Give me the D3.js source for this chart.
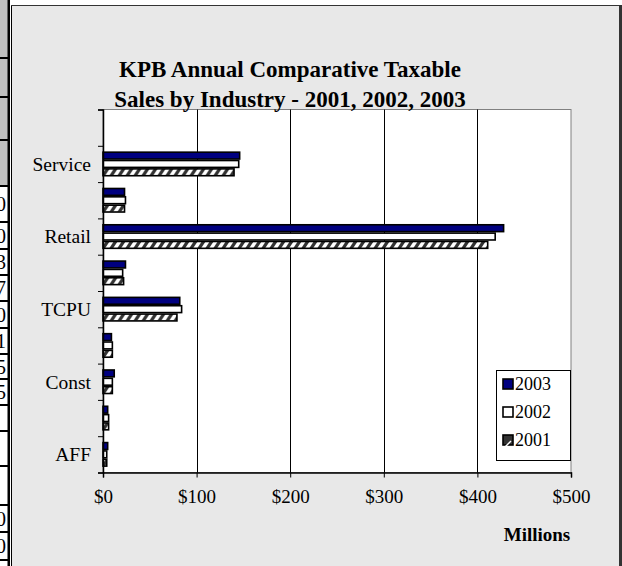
<!DOCTYPE html>
<html>
<head>
<meta charset="utf-8">
<script src="https://cdn.jsdelivr.net/npm/d3@7/dist/d3.min.js"></script>
<style>
  html, body { margin: 0; padding: 0; background: #ffffff; }
  svg { display: block; }
  text { font-family: "Liberation Serif", "Times New Roman", serif; fill: #000; }
</style>
</head>
<body>
<svg id="chart" width="622" height="566"></svg>
<script>
// ---- data (millions of dollars) ----
const categories = ["AFF", "Mining", "Const", "Manuf", "TCPU", "Wholesale", "Retail", "FIRE", "Service", "Other"];
const years = ["2003", "2002", "2001"];
const values2003 = [5, 5, 12, 9, 82, 24, 428, 23, 146, 0];
const values2002 = [4, 6, 10, 10, 84, 21, 419, 24, 145, 0];
const values2001 = [4, 6, 10, 10, 79, 22, 411, 23, 140, 0];
const xTickValues = [0, 100, 200, 300, 400, 500];
const titleLines = ["KPB Annual Comparative Taxable", "Sales by Industry - 2001, 2002, 2003"];
const axisTitle = "Millions";
// fragment of the neighbouring table at the left edge
const sideDigits = ["0", "0", "3", "7", "0", "1", "5", "5", "", "", "", "0", "0"];

const seriesByYear = { "2003": values2003, "2002": values2002, "2001": values2001 };
const rows = categories.map((c, i) => ({ cat: c, i, vals: years.map(y => ({ year: y, v: seriesByYear[y][i] })) }));

const svg = d3.select("#chart");

// ---- pattern for 2001 ----
const defs = svg.append("defs");
const pat = defs.append("pattern").attr("id", "hatch").attr("patternUnits", "userSpaceOnUse")
  .attr("width", 8).attr("height", 8);
pat.append("rect").attr("width", 8).attr("height", 8).attr("fill", "#ffffff");
pat.append("path").attr("d", "M-2,10 L6,-2 M6,10 L14,-2").attr("stroke", "#333333").attr("stroke-width", 3.2);

// ---- left table fragment ----
svg.append("rect").attr("x", 0).attr("y", 0).attr("width", 8).attr("height", 186).attr("fill", "#c0c0c0");
[58, 97, 140, 186].forEach(yy => svg.append("rect").attr("x", 0).attr("y", yy - 1).attr("width", 8).attr("height", 2).attr("fill", "#000"));
const sideLines = [186, 222, 249, 275, 301, 328, 354, 379, 405, 431, 466, 505, 532, 560];
sideDigits.forEach((d, k) => {
  const yTop = sideLines[k], yBot = sideLines[k + 1];
  svg.append("rect").attr("x", 0).attr("y", yBot - 1).attr("width", 8).attr("height", 2).attr("fill", "#000");
  if (d) svg.append("text").attr("x", 6).attr("y", (yTop + yBot) / 2).attr("dy", "0.35em").attr("text-anchor", "end")
    .style("font-size", "20px").text(d);
});
svg.append("rect").attr("x", 8).attr("y", 0).attr("width", 3).attr("height", 566).attr("fill", "#ffffff");

// ---- chart area ----
svg.append("rect").attr("x", 12).attr("y", 6).attr("width", 607).attr("height", 560).attr("fill", "#e8e8e8");
svg.append("rect").attr("x", 7.5).attr("y", 0).attr("width", 2.5).attr("height", 566).attr("fill", "#000");
svg.append("rect").attr("x", 11).attr("y", 5).attr("width", 1).attr("height", 561).attr("fill", "#000");
svg.append("rect").attr("x", 11).attr("y", 5).attr("width", 611).attr("height", 1).attr("fill", "#333");
svg.append("rect").attr("x", 619).attr("y", 5).attr("width", 3).attr("height", 561).attr("fill", "#333");

// ---- scales ----
const plot = { left: 103, right: 571, top: 109.5, bottom: 472.5 };
const x = d3.scaleLinear().domain([0, 500]).range([plot.left, plot.right]);
const yIdx = d3.scaleLinear().domain([0, categories.length]).range([plot.bottom, plot.top]);
const y = d3.scaleBand().domain(categories).range([plot.bottom, plot.top]).paddingInner(0.31).paddingOuter(0.155);
const ySub = d3.scaleBand().domain(years).range([0, y.bandwidth()]);

// plot background
svg.append("rect").attr("x", plot.left).attr("y", plot.top)
  .attr("width", plot.right - plot.left).attr("height", plot.bottom - plot.top)
  .attr("fill", "#ffffff").attr("stroke", "#808080").attr("stroke-width", 1);

// gridlines
svg.append("g").selectAll("line").data(xTickValues.slice(1, -1)).join("line")
  .attr("x1", d => Math.round(x(d)) + 0.5).attr("x2", d => Math.round(x(d)) + 0.5)
  .attr("y1", plot.top).attr("y2", plot.bottom).attr("stroke", "#000").attr("stroke-width", 1);

// bars
const fills = { "2003": "#000080", "2002": "#ffffff", "2001": "url(#hatch)" };
const g = svg.append("g").selectAll("g").data(rows).join("g")
  .attr("transform", d => `translate(0,${y(d.cat)})`);
g.selectAll("rect").data(d => d.vals.filter(v => v.v > 0)).join("rect")
  .attr("x", x(0)).attr("y", d => ySub(d.year) + 0.75)
  .attr("width", d => x(d.v) - x(0)).attr("height", ySub.bandwidth() - 1.5)
  .attr("fill", d => fills[d.year]).attr("stroke", "#000").attr("stroke-width", 1.6);

// x axis
const xAxis = svg.append("g").attr("transform", `translate(0,${plot.bottom})`)
  .call(d3.axisBottom(x).tickValues(xTickValues).tickSize(5).tickPadding(12).tickFormat(d => "$" + d));
xAxis.select(".domain").attr("stroke", "#000").attr("stroke-width", 1.5);
xAxis.selectAll(".tick line").attr("stroke", "#000");
xAxis.selectAll("text").style("font-size", "19px").style("font-family", "Liberation Serif").attr("fill", "#000");

// y axis (ticks on category boundaries)
const yAxis = svg.append("g").attr("transform", `translate(${plot.left},0)`)
  .call(d3.axisLeft(yIdx).tickValues(d3.range(categories.length + 1)).tickSize(5).tickFormat(""));
yAxis.select(".domain").attr("stroke", "#000").attr("stroke-width", 1.5);
yAxis.selectAll(".tick line").attr("stroke", "#000");

// category labels (every other one shown)
svg.append("g").selectAll("text").data(rows.filter(d => d.i % 2 === 0)).join("text")
  .attr("x", 91).attr("y", d => y(d.cat) + y.bandwidth() / 2).attr("dy", "0.35em")
  .attr("text-anchor", "end").style("font-size", "19.5px").text(d => d.cat);

// title
svg.append("g").selectAll("text").data(titleLines).join("text")
  .attr("x", 290).attr("y", (d, i) => 77 + i * 30).attr("text-anchor", "middle")
  .style("font-size", "23px").style("font-weight", "bold").text(d => d);

// axis title
svg.append("text").attr("x", 537).attr("y", 541).attr("text-anchor", "middle")
  .style("font-size", "19px").style("font-weight", "bold").text(axisTitle);

// legend
const leg = svg.append("g");
leg.append("rect").attr("x", 496.5).attr("y", 370.5).attr("width", 74).attr("height", 90)
  .attr("fill", "#ffffff").attr("stroke", "#000").attr("stroke-width", 1);
const li = leg.selectAll("g").data(years).join("g")
  .attr("transform", (d, i) => `translate(503,${384 + i * 28})`);
li.append("rect").attr("x", 0).attr("y", -5).attr("width", 10).attr("height", 10)
  .attr("fill", d => d === "2001" ? "#333" : fills[d]).attr("stroke", "#000").attr("stroke-width", 1.6);
li.filter(d => d === "2001").append("path").attr("d", "M1,8 L8,1").attr("stroke", "#fff").attr("stroke-width", 1.5);
li.append("text").attr("x", 12).attr("y", 0).attr("dy", "0.35em").style("font-size", "18px").text(d => d);
</script>
</body>
</html>
